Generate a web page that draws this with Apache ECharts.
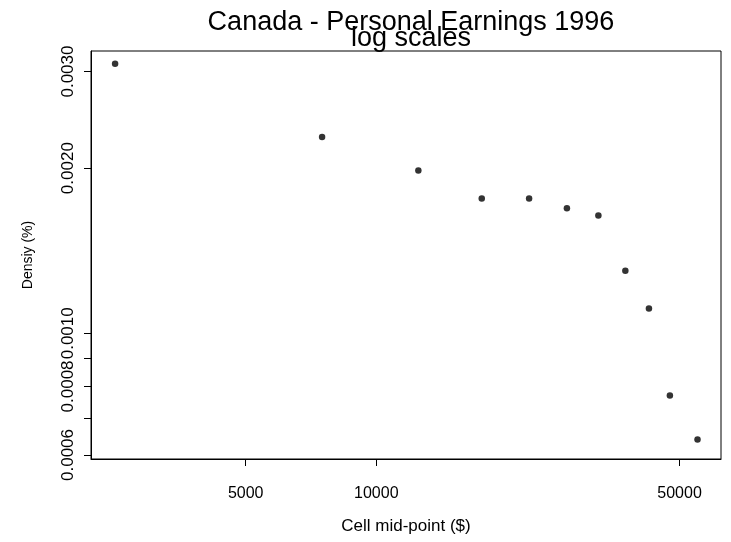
<!DOCTYPE html>
<html>
<head>
<meta charset="utf-8">
<script src="https://cdn.jsdelivr.net/npm/echarts@6/dist/echarts.min.js"></script>
<style>
  html, body { margin: 0; padding: 0; background: #fff; }
  #chart { width: 731px; height: 542px; }
</style>
</head>
<body>
<div id="chart"></div>
<script>
// cell mid-points ($) and density
var cellMid = [2500, 7500, 12500, 17500, 22500, 27500, 32500, 37500, 42500, 47500, 55000];
var density = [0.00310, 0.00228, 0.00198, 0.00176, 0.00176, 0.00169, 0.00164, 0.00130, 0.00111, 0.00077, 0.00064];

var xTicks = [5000, 10000, 50000];
var yTicks = [0.0006, 0.0007, 0.0008, 0.0009, 0.0010, 0.0020, 0.0030];
var yLabels = [0.0006, 0.0008, 0.0010, 0.0020, 0.0030];

var font = 'Liberation Sans, Arial, Helvetica, sans-serif';

var points = [];
for (var i = 0; i < cellMid.length; i++) {
    points.push([cellMid[i], density[i]]);
}

var myChart = echarts.init(document.getElementById('chart'));
var option = {
    backgroundColor : '#fff',
    animation : false,
    title : [ {
        text : 'Canada - Personal Earnings 1996',
        left : 406,
        top : 4,
        textAlign : 'center',
        textStyle : { fontFamily : font, fontWeight : 'normal', fontSize : 27, color : '#000' }
    }, {
        text : 'log scales',
        left : 406,
        top : 20,
        textAlign : 'center',
        textStyle : { fontFamily : font, fontWeight : 'normal', fontSize : 27, color : '#000' }
    } ],
    grid : {
        left : 91,
        right : 10,
        top : 51,
        bottom : 83,
        show : true,
        borderColor : '#000',
        borderWidth : 1
    },
    xAxis : {
        type : 'log',
        logBase : 10,
        min : 2200,
        max : 62300,
        name : 'Cell mid-point ($)',
        nameLocation : 'middle',
        nameGap : 59,
        nameTextStyle : { fontFamily : font, fontSize : 17, color : '#000' },
        axisLine : { show : true, lineStyle : { color : '#000', width : 1 } },
        axisTick : { show : true, inside : false, length : 7, lineStyle : { color : '#000' }, customValues : xTicks },
        axisLabel : {
            fontFamily : font, fontSize : 16, color : '#000', margin : 27,
            customValues : xTicks,
            formatter : function(v) { return String(Math.round(v)); }
        },
        splitLine : { show : false },
        minorTick : { show : false }
    },
    yAxis : {
        type : 'log',
        logBase : 10,
        min : 0.00059,
        max : 0.00327,
        name : 'Densiy (%)',
        nameLocation : 'middle',
        nameRotate : 90,
        nameGap : 56,
        nameTextStyle : { fontFamily : font, fontSize : 14, color : '#000' },
        axisLine : { show : true, lineStyle : { color : '#000', width : 1 } },
        axisTick : { show : true, inside : false, length : 7, lineStyle : { color : '#000' }, customValues : yTicks },
        axisLabel : {
            fontFamily : font, fontSize : 17, color : '#000', margin : 14, rotate : 90,
            customValues : yLabels,
            formatter : function(v) { return Number(v).toFixed(4); }
        },
        splitLine : { show : false },
        minorTick : { show : false }
    },
    series : [ {
        type : 'scatter',
        data : points,
        symbol : 'circle',
        symbolSize : 6.5,
        itemStyle : { color : '#000' }
    } ]
};

myChart.setOption(option);
</script>
</body>
</html>
